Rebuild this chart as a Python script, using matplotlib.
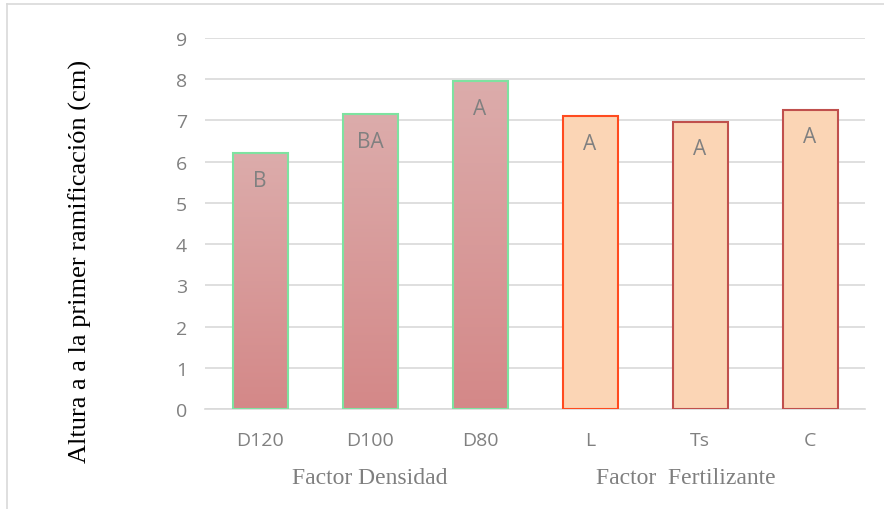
import numpy as np
import matplotlib
matplotlib.use("Agg")
import matplotlib.pyplot as plt
from matplotlib.lines import Line2D
import matplotlib.transforms as mtransforms

categories = ["D120", "D100", "D80", "L", "Ts", "C"]
values = [6.2, 7.15, 7.95, 7.1, 6.97, 7.26]
letters = ["B", "BA", "A", "A", "A", "A"]
groups = ["Factor Densidad", "Factor  Fertilizante"]
group_pos = [1.0, 3.87]
yticks = [0, 1, 2, 3, 4, 5, 6, 7, 8, 9]

W, H = 884, 510
fig = plt.figure(figsize=(W / 100, H / 100), dpi=100)
ax = fig.add_axes([205 / W, 1 - 410 / H, 660 / W, (410 - 39) / H])

x = np.arange(len(categories))
width = 0.5
edge_colors = ["#7EE2A0", "#7EE2A0", "#7EE2A0", "#FF4B1F", "#C0504D", "#C0504D"]

# gradient for density bars
grad = np.linspace(0, 1, 256).reshape(-1, 1)
top_c = np.array([0xDC, 0xAC, 0xAB]) / 255
bot_c = np.array([0xD4, 0x88, 0x88]) / 255
img = top_c[None, None, :] * (1 - grad[:, :, None]) + bot_c[None, None, :] * grad[:, :, None]

bars = ax.bar(x, values, width=width, zorder=3, linewidth=1.5)
for i, b in enumerate(bars):
    b.set_edgecolor(edge_colors[i])
    if i < 3:
        b.set_facecolor("none")
        im = ax.imshow(img, extent=[b.get_x(), b.get_x() + b.get_width(), 0, b.get_height()],
                       aspect="auto", zorder=2.5, origin="upper")
        im.set_clip_path(b)
    else:
        b.set_facecolor("#FBD5B5")

for i, (xi, v) in enumerate(zip(x, values)):
    ax.annotate(letters[i], (xi, v), xytext=(0, -27), textcoords="offset pixels",
                ha="center", va="center", fontsize=15, color="#808080",
                family="Open Sans", zorder=5)

ax.set_xlim(-0.5, len(categories) - 0.5)
ax.set_ylim(0, 9)
ax.set_yticks(yticks)
ax.yaxis.grid(True, color="#D9D9D9", linewidth=1.2, zorder=0)
ax.set_axisbelow(True)
for s in ["top", "right", "left"]:
    ax.spines[s].set_visible(False)
ax.spines["bottom"].set_color("#D9D9D9")
ax.spines["bottom"].set_linewidth(1.2)
ax.tick_params(axis="both", length=0, colors="#808080", labelsize=14)
ax.tick_params(axis="y", pad=13)
ax.tick_params(axis="x", pad=16)
ax.set_xticks(x)
ax.set_xticklabels(categories)
for lab in ax.get_xticklabels() + ax.get_yticklabels():
    lab.set_family("Open Sans")

trans = mtransforms.blended_transform_factory(ax.transData, fig.transFigure)
for g, gp in zip(groups, group_pos):
    ax.text(gp, 1 - 479 / H, g, transform=trans, ha="center", va="center",
            fontsize=17, color="#7F7F7F", family="Liberation Serif")

fig.text(80 / W, 1 - 261 / H, "Altura a a la primer ramificación (cm)", rotation=90,
         ha="center", va="center", fontsize=19, color="black", family="Liberation Serif")

# outer frame
fig.add_artist(Line2D([7 / W, 7 / W], [0, 1 - 5 / H], transform=fig.transFigure,
                      color="#D9D9D9", linewidth=1.2))
fig.add_artist(Line2D([7 / W, 1], [1 - 5 / H, 1 - 5 / H], transform=fig.transFigure,
                      color="#D9D9D9", linewidth=1.2))

fig.savefig("out.png", dpi=100)
